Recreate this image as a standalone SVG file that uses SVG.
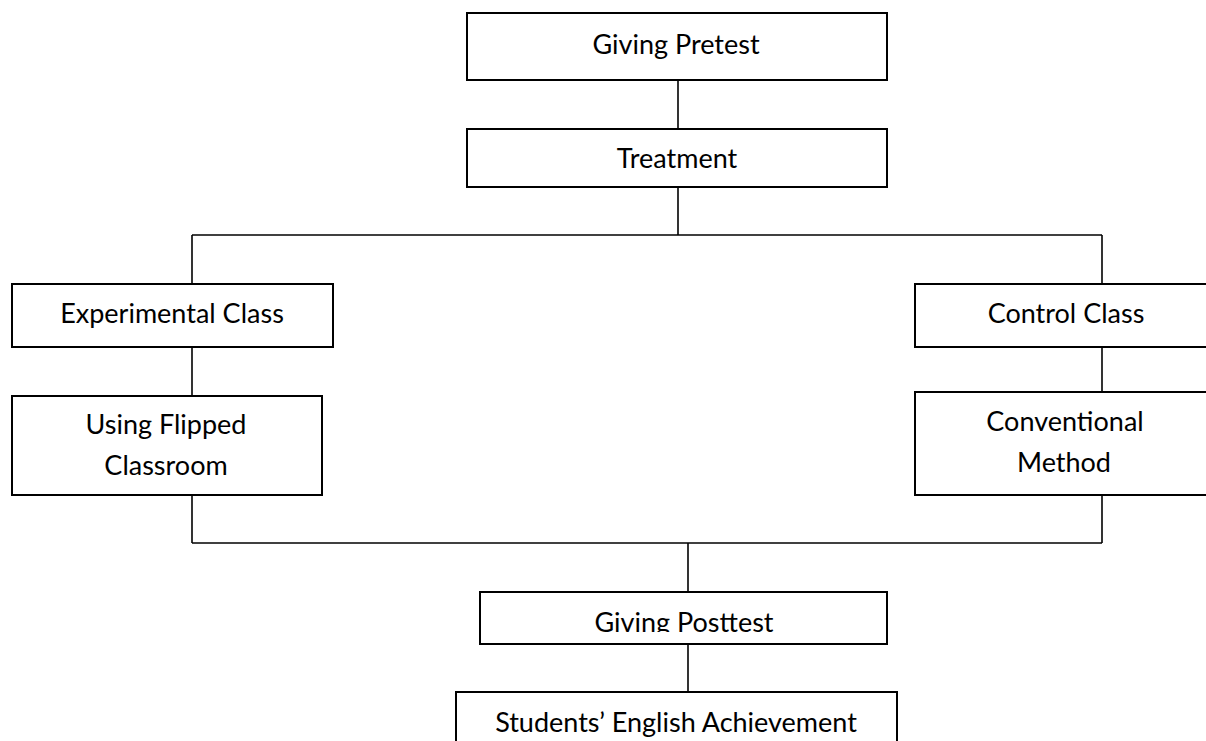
<svg xmlns="http://www.w3.org/2000/svg" width="1206" height="741" viewBox="0 0 1206 741">
<style>
  .box { fill: #ffffff; stroke: #000000; stroke-width: 2; }
  .conn line { stroke: #000000; stroke-width: 1.6; }
  text { font-family: Lato, "Liberation Sans", sans-serif; font-size: 27px; fill: #000000; text-anchor: middle; }
</style>
<defs>
  <clipPath id="clipPost"><rect x="480" y="592" width="407" height="40"/></clipPath>
</defs>
<rect x="0" y="0" width="1206" height="741" fill="#ffffff"/>
<g id="connectors" class="conn">
  <line x1="678" y1="80" x2="678" y2="129"/>
  <line x1="678" y1="187" x2="678" y2="235"/>
  <line x1="192" y1="235" x2="1102" y2="235"/>
  <line x1="192" y1="235" x2="192" y2="284"/>
  <line x1="1102" y1="235" x2="1102" y2="284"/>
  <line x1="192" y1="347" x2="192" y2="396"/>
  <line x1="1102" y1="344" x2="1102" y2="392"/>
  <line x1="192" y1="495" x2="192" y2="543"/>
  <line x1="1102" y1="495" x2="1102" y2="543"/>
  <line x1="192" y1="543" x2="1102" y2="543"/>
  <line x1="688" y1="543" x2="688" y2="592"/>
  <line x1="688" y1="644" x2="688" y2="692"/>
</g>
<g id="pretest">
  <rect class="box" x="467" y="13" width="420" height="67"/>
  <text x="676" y="54">Giving Pretest</text>
</g>
<g id="treatment">
  <rect class="box" x="467" y="129" width="420" height="58"/>
  <text x="677" y="168">Treatment</text>
</g>
<g id="experimental">
  <rect class="box" x="12" y="284" width="321" height="63"/>
  <text x="172" y="323">Experimental Class</text>
</g>
<g id="flipped">
  <rect class="box" x="12" y="396" width="310" height="99"/>
  <text x="166" y="434">Using Flipped</text>
  <text x="166" y="475">Classroom</text>
</g>
<g id="control">
  <rect class="box" x="915" y="284" width="300" height="63"/>
  <text x="1066" y="323">Control Class</text>
</g>
<g id="conventional">
  <rect class="box" x="915" y="392" width="300" height="103"/>
  <text x="1065" y="431">Conventional</text>
  <text x="1064" y="472">Method</text>
</g>
<g id="posttest">
  <rect class="box" x="480" y="592" width="407" height="52"/>
  <text x="684" y="632" clip-path="url(#clipPost)">Giving Posttest</text>
</g>
<g id="achievement">
  <rect class="box" x="456" y="692" width="441" height="60"/>
  <text x="676" y="732">Students’ English Achievement</text>
</g>
</svg>
